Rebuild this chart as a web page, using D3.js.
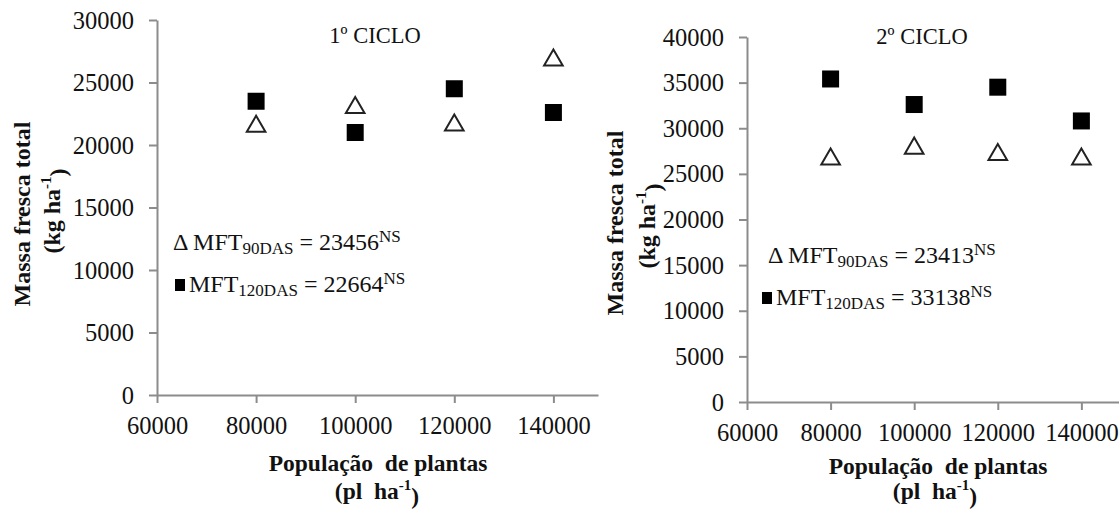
<!DOCTYPE html>
<html><head><meta charset="utf-8">
<script src="https://cdn.jsdelivr.net/npm/d3@7"></script>
<style>
body{margin:0;background:#fff;}
svg{display:block;}
svg text{font-family:"Liberation Serif","Times New Roman",Tinos,serif;}
</style></head>
<body><svg id="c" width="1119" height="509"></svg>
<script>
const populations = [80000, 100000, 120000, 140000];
const mft90Ciclo1 = [21700, 23200, 21800, 27000];
const mft120Ciclo1 = [23500, 21000, 24500, 22600];
const mft90Ciclo2 = [26900, 28100, 27400, 26900];
const mft120Ciclo2 = [35400, 32600, 34500, 30800];
const xTicks = [60000, 80000, 100000, 120000, 140000];
const yTicks1 = [0, 5000, 10000, 15000, 20000, 25000, 30000];
const yTicks2 = [0, 5000, 10000, 15000, 20000, 25000, 30000, 35000, 40000];
const titles = ["1º CICLO", "2º CICLO"];
const means90 = ["23456", "23413"];
const means120 = ["22664", "33138"];

const FONT = '"Liberation Serif", "Times New Roman", serif';
const svg = d3.select("#c");

const panels = [
  {title: titles[0], t90: mft90Ciclo1, t120: mft120Ciclo1, yTicks: yTicks1, yMax: 30000,
   xr: [157, 598], yr: [395, 20], titleX: 375, titleY: 43,
   ylab: [22, 214], ylab2: [52, 211], xlab: [378, 471], xlab2: [377, 499],
   ann1: [173, 250], ann2: [175, 292], m90: means90[0], m120: means120[0]},
  {title: titles[1], t90: mft90Ciclo2, t120: mft120Ciclo2, yTicks: yTicks2, yMax: 40000,
   xr: [747, 1119], yr: [402, 37], titleX: 922, titleY: 44,
   ylab: [615, 223], ylab2: [647, 226], xlab: [938, 474], xlab2: [935, 499],
   ann1: [768, 263], ann2: [762, 305], m90: means90[1], m120: means120[1]}
];

function txt(sel) { return sel.attr("font-family", FONT).style("font-family", FONT).attr("fill", "#111"); }

panels.forEach(p => {
  const x = d3.scaleLinear().domain([60000, 149000]).range(p.xr);
  const y = d3.scaleLinear().domain([0, p.yMax]).range(p.yr);
  const g = svg.append("g");

  const xAxis = d3.axisBottom(x).tickValues(xTicks).tickSize(8).tickSizeOuter(0).tickFormat(d3.format("d"));
  const gx = g.append("g").attr("transform", `translate(0,${y(0)})`).call(xAxis);
  gx.attr("font-family", FONT);
  gx.select(".domain").attr("stroke", "#8c8c8c").attr("stroke-width", 2);
  gx.selectAll(".tick line").attr("stroke", "#8c8c8c").attr("stroke-width", 2);
  txt(gx.selectAll(".tick text")).attr("dy", null).attr("y", 39).attr("font-size", 24.5);

  const yAxis = d3.axisLeft(y).tickValues(p.yTicks).tickSize(8).tickSizeOuter(0).tickFormat(d3.format("d"));
  const gy = g.append("g").attr("transform", `translate(${x(60000)},0)`).call(yAxis);
  gy.attr("font-family", FONT);
  gy.select(".domain").attr("stroke", "#8c8c8c").attr("stroke-width", 2);
  gy.selectAll(".tick line").attr("stroke", "#8c8c8c").attr("stroke-width", 2);
  txt(gy.selectAll(".tick text")).attr("x", -23).attr("dy", "0.33em").attr("font-size", 24.5);

  // title
  txt(g.append("text")).attr("x", p.titleX).attr("y", p.titleY).attr("text-anchor", "middle")
    .attr("font-size", 22.5).text(p.title);

  // markers
  const sq = 17;
  g.selectAll(".sq").data(populations.map((d, i) => [d, p.t120[i]])).join("rect")
    .attr("x", d => x(d[0]) - sq / 2).attr("y", d => y(d[1]) - sq / 2)
    .attr("width", sq).attr("height", sq).attr("fill", "#000");
  const tri = d3.symbol().type(d3.symbolTriangle).size(150);
  g.selectAll(".tri").data(populations.map((d, i) => [d, p.t90[i]])).join("path")
    .attr("d", tri).attr("transform", d => `translate(${x(d[0])},${y(d[1]) + 2.7})`)
    .attr("fill", "#fff").attr("stroke", "#222").attr("stroke-width", 2);

  // axis labels
  txt(g.append("text")).attr("transform", `translate(${p.ylab[0]},${p.ylab[1]}) rotate(-90)`)
    .attr("text-anchor", "middle").attr("dy", "0.35em").attr("font-weight", "bold").attr("font-size", 24)
    .text("Massa fresca total");
  const yl2 = txt(g.append("text")).attr("transform", `translate(${p.ylab2[0]},${p.ylab2[1]}) rotate(-90)`)
    .attr("text-anchor", "middle").attr("dy", "0.35em").attr("font-weight", "bold").attr("font-size", 24);
  yl2.append("tspan").text("(kg ha");
  yl2.append("tspan").attr("font-size", 15).attr("dy", "-0.6em").text("-1");
  yl2.append("tspan").attr("dy", "0.6em").text(")");

  txt(g.append("text")).attr("x", p.xlab[0]).attr("y", p.xlab[1]).attr("text-anchor", "middle")
    .attr("font-weight", "bold").attr("font-size", 23.5).style("white-space", "pre").text("População  de plantas");
  const xl2 = txt(g.append("text")).attr("x", p.xlab2[0]).attr("y", p.xlab2[1]).attr("text-anchor", "middle")
    .attr("font-weight", "bold").attr("font-size", 23.5).style("white-space", "pre");
  xl2.append("tspan").text("(pl  ha");
  xl2.append("tspan").attr("font-size", 15).attr("dy", "-0.6em").text("-1");
  xl2.append("tspan").attr("dy", "0.6em").text(")");

  // annotations
  const a1 = txt(g.append("text")).attr("x", p.ann1[0]).attr("y", p.ann1[1]).attr("font-size", 24);
  a1.append("tspan").text("Δ MFT");
  a1.append("tspan").attr("font-size", 17).attr("dy", 4).text("90DAS");
  a1.append("tspan").attr("dy", -4).text(" = " + p.m90);
  a1.append("tspan").attr("font-size", 17).attr("dy", -8).text("NS");

  g.append("rect").attr("x", p.ann2[0]).attr("y", p.ann2[1] - 13).attr("width", 10).attr("height", 12).attr("fill", "#000");
  const a2 = txt(g.append("text")).attr("x", p.ann2[0] + 14).attr("y", p.ann2[1]).attr("font-size", 24);
  a2.append("tspan").text("MFT");
  a2.append("tspan").attr("font-size", 17).attr("dy", 4).text("120DAS");
  a2.append("tspan").attr("dy", -4).text(" = " + p.m120);
  a2.append("tspan").attr("font-size", 17).attr("dy", -8).text("NS");
});
</script></body></html>
